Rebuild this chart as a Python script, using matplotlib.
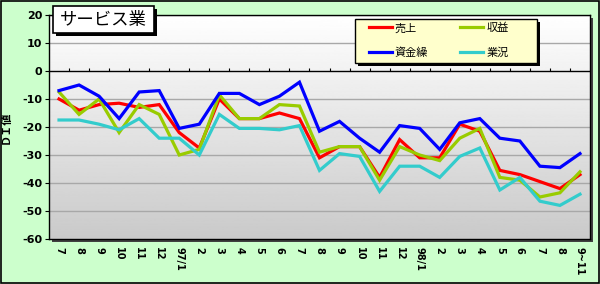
import numpy as np
import matplotlib
matplotlib.use("Agg")
import matplotlib.pyplot as plt
from matplotlib.patches import Rectangle

plt.rcParams['font.family'] = ['Noto Sans CJK JP', 'DejaVu Sans']

# カテゴリ（月）
months = ['7', '8', '9', '10', '11', '12', '97/1', '2', '3', '4', '5', '6', '7',
          '8', '9', '10', '11', '12', '98/1', '2', '3', '4', '5', '6', '7', '8', '9~11']

# 各系列のDI値
uriage = [-10, -14, -12, -11.5, -13, -12, -22, -27.5, -10, -17, -17, -15, -17,
          -31, -27, -27, -38, -24.5, -31, -31, -19, -21.5, -35.5, -37, -39.5, -42, -37]
shueki = [-7.5, -15.5, -10, -22, -12, -15.5, -30, -28, -8.5, -17, -17, -12, -12.5,
          -29, -27, -27, -39, -27, -30, -32, -24, -20.5, -38, -39, -45, -43.5, -36]
shikin = [-7, -5, -9, -17, -7.5, -7, -20.5, -19, -8, -8, -12, -9, -4,
          -21.5, -18, -24, -29, -19.5, -20.5, -28, -18.5, -17, -24, -25, -34, -34.5, -29.5]
gyokyo = [-17.5, -17.5, -19, -21, -17, -24, -24, -30, -15.5, -20.5, -20.5, -21, -19.5,
          -35.5, -29.5, -30.5, -43, -34, -34, -38, -30.5, -27.5, -42.5, -38, -46.5, -48, -44]

series = [('売上', uriage, '#FF0000'),
          ('収益', shueki, '#99CC00'),
          ('資金繰', shikin, '#0000FF'),
          ('業況', gyokyo, '#33CCCC')]

W, H = 600, 284
fig = plt.figure(figsize=(6, 2.84), dpi=100, facecolor='#CCFFCC')
# 外枠
fig.patches.append(Rectangle((0.001, 0.002), 0.997, 0.995, transform=fig.transFigure,
                             fill=False, edgecolor='black', lw=1.2))

ax = fig.add_axes([49 / W, 1 - 239 / H, 541 / W, 224 / H])
x = np.arange(len(months))

# 背景のグラデーション
grad = np.linspace(1.0, 0.79, 256).reshape(-1, 1)
ax.imshow(grad, extent=[-0.5, len(months) - 0.5, -60, 20], aspect='auto',
          cmap='gray', vmin=0, vmax=1, zorder=0)

# プロット領域の影
fig.patches.append(Rectangle((52 / W, 1 - 242 / H), 541 / W, 224 / H,
                             transform=fig.transFigure, facecolor='#404040',
                             edgecolor='none', zorder=-1))

for yv in range(-50, 30, 10):
    if yv != 0:
        ax.axhline(yv, color='#A8A8A8', lw=1, zorder=1)
ax.axhline(0, color='black', lw=1, zorder=2)
ax.vlines(x[:-1] + 0.5, 0, 0.9, color='black', lw=0.8, zorder=2)

lines = {}
for name, vals, col in series:
    l, = ax.plot(x, vals, color=col, lw=2.3, label=name, zorder=3,
                 solid_joinstyle='miter')
    lines[name] = l

ax.set_xlim(-0.5, len(months) - 0.5)
ax.set_ylim(-60, 20)
ax.set_yticks(range(-60, 30, 10))
ax.set_yticklabels([str(v) for v in range(-60, 30, 10)], fontsize=8, fontweight='bold',
                   family='DejaVu Sans')
ax.set_xticks(x)
ax.set_xticklabels(months, rotation=-90, fontsize=7, fontweight='bold',
                   family='DejaVu Sans', va='top', ha='center')
ax.tick_params(axis='x', length=0, pad=6)
ax.tick_params(axis='y', length=3, width=0.8, pad=2)
for sp in ax.spines.values():
    sp.set_color('black')
    sp.set_linewidth(1)

ax.set_ylabel('ＤＩ値', fontsize=8, fontweight='bold')
ax.yaxis.set_label_coords(-0.068, 0.5)

# タイトルボックス
fig.patches.append(Rectangle((56 / W, 1 - 36 / H), 101 / W, 27 / H,
                             transform=fig.transFigure, facecolor='black', zorder=4))
fig.patches.append(Rectangle((53 / W, 1 - 33 / H), 101 / W, 27 / H,
                             transform=fig.transFigure, facecolor='white',
                             edgecolor='black', lw=1.2, zorder=4.5))
fig.text(103.5 / W, 1 - 20 / H, 'サービス業', fontsize=12.5, ha='center', va='center',
         zorder=5)

# 凡例の枠と影
fig.patches.append(Rectangle((358 / W, 1 - 66 / H), 182 / W, 44 / H,
                             transform=fig.transFigure, facecolor='black', zorder=4))
fig.patches.append(Rectangle((355 / W, 1 - 63 / H), 182 / W, 44 / H,
                             transform=fig.transFigure, facecolor='#FFFFCC',
                             edgecolor='black', lw=1, zorder=4.5))

order = ['売上', '資金繰', '収益', '業況']
leg = fig.legend([lines[n] for n in order], order, ncol=2, loc='upper left',
                 bbox_to_anchor=(369 / W, 1 - 23 / H), bbox_transform=fig.transFigure,
                 borderaxespad=0, borderpad=0, fontsize=8, frameon=False,
                 handlelength=2.07, handletextpad=0.25, columnspacing=2.9,
                 labelspacing=1.25)
leg.set_zorder(5)

fig.savefig('out.png', dpi=100, facecolor=fig.get_facecolor())
